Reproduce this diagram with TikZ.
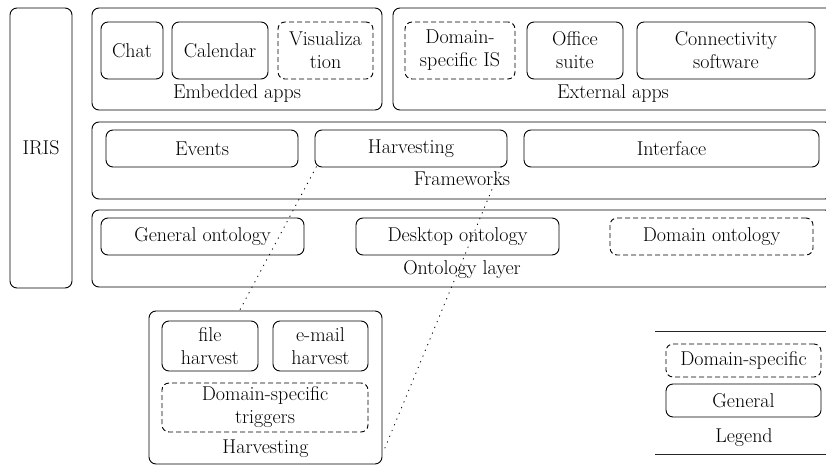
\documentclass[tikz,border=0pt]{standalone}
\begin{document}
\begin{tikzpicture}[x=1pt,y=-1pt,
  txt/.style={font=\fontsize{20}{23}\selectfont},
  box/.style={txt,draw=black,line width=0.9pt,rounded corners=7pt,inner sep=0pt,align=center},
  dbox/.style={box,dash pattern=on 5pt off 3pt},
  lbl/.style={txt,inner sep=0pt,anchor=base},
  dotline/.style={draw=black,line width=0.8pt,dash pattern=on 1.2pt off 5pt},
  legline/.style={draw=black!85,line width=1pt}]
\useasboundingbox (0,0) rectangle (826,465);
% IRIS
\node[box,minimum width=62pt,minimum height=280pt] (iris) at (41,148) {IRIS};
% Embedded apps
\node[box,minimum width=290pt,minimum height=102pt] (emb) at (237,59) {};
\node[box,minimum width=62pt,minimum height=57pt] (chat) at (132,50.5) {Chat};
\node[box,minimum width=96pt,minimum height=57pt] (cal) at (220,50.5) {Calendar};
\node[dbox,minimum width=95pt,minimum height=57pt] (vis) at (325.5,50.5) {Visualiza\\tion};
\node[lbl] (embl) at (237,99) {Embedded apps};
% External apps
\node[box,minimum width=440pt,minimum height=102pt] (ext) at (613,59) {};
\node[dbox,minimum width=110pt,minimum height=57pt] (dis) at (460,50.5) {Domain-\\specific IS};
\node[box,minimum width=96pt,minimum height=57pt] (off) at (575,50.5) {Office\\suite};
\node[box,minimum width=178pt,minimum height=57pt] (con) at (726,50.5) {Connectivity\\software};
\node[lbl] (extl) at (613,99) {External apps};
% Frameworks
\node[box,minimum width=740pt,minimum height=77pt] (fw) at (462,160.5) {};
\node[box,minimum width=192pt,minimum height=37pt] (ev) at (202,148.5) {Events};
\node[box,minimum width=192pt,minimum height=37pt] (harv) at (411,148.5) {Harvesting};
\node[box,minimum width=295pt,minimum height=37pt] (intf) at (671.5,148.5) {Interface};
\node[lbl] (fwl) at (462,185) {Frameworks};
% Ontology layer
\node[box,minimum width=740pt,minimum height=77pt] (ont) at (462,248.5) {};
\node[box,minimum width=203pt,minimum height=37pt] (gen) at (202.5,236.5) {General ontology};
\node[box,minimum width=203pt,minimum height=37pt] (desk) at (457.5,236.5) {Desktop ontology};
\node[dbox,minimum width=203pt,minimum height=37pt] (dom) at (711.5,236.5) {Domain ontology};
\node[lbl] (ontl) at (462,274) {Ontology layer};
% Harvesting detail
\node[box,minimum width=233pt,minimum height=153pt] (hbox) at (265.5,387.5) {};
\node[box,minimum width=96pt,minimum height=50pt] (file) at (210,346) {file\\harvest};
\node[box,minimum width=95pt,minimum height=50pt] (mail) at (320.5,346) {e-mail\\harvest};
\node[dbox,minimum width=206pt,minimum height=49pt] (trig) at (265,407.5) {Domain-specific\\triggers};
\node[lbl] (hl) at (265.5,453) {Harvesting};
% Legend
\coordinate (lt1) at (655,331);
\coordinate (lt2) at (830,331);
\coordinate (lb1) at (655,454);
\coordinate (lb2) at (830,454);
\draw[legline] (lt1) -- (lt2);
\draw[legline] (lb1) -- (lb2);
\node[dbox,minimum width=155pt,minimum height=33pt] (lds) at (743.5,360.5) {Domain-specific};
\node[box,minimum width=155pt,minimum height=33pt] (lgen) at (743.5,400.5) {General};
\node[lbl] (legl) at (744,442) {Legend};
% dotted connectors
\draw[dotline] ([xshift=2pt,yshift=1pt]harv.south west) -- ([xshift=91pt]hbox.north west);
\draw[dotline] ([xshift=-6pt,yshift=1pt]harv.south east) -- ([xshift=1pt,yshift=13pt]hbox.south east);
\end{tikzpicture}
\end{document}
